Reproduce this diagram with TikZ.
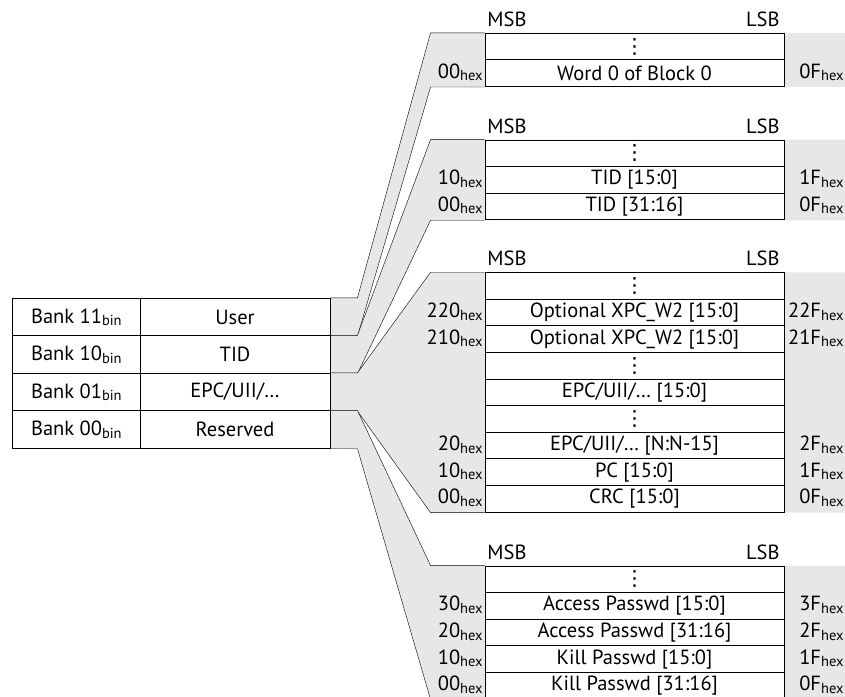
\documentclass[tikz,border=0pt]{standalone}
\usepackage{fontspec}
\setmainfont{PT Sans}
\newfontfamily\dotsfont{DejaVu Sans}
\usetikzlibrary{backgrounds}
\definecolor{memGray}{HTML}{E6E7E8}
\newcommand{\lowsub}[1]{\raisebox{-.25ex}{\fontsize{14.5}{15}\selectfont #1}}
\newcommand{\hx}{\lowsub{hex}}
\newcommand{\coldots}{{\dotsfont\fontsize{21}{21}\selectfont ⋮}}
\newcommand{\memblock}[4]{%
  \node[bitlbl,anchor=base west] at (487,#2-7) {MSB};
  \node[bitlbl,anchor=base east] at (780,#2-7) {LSB};
  \foreach \txt [count=\i from 0] in {#3}
    \node[wordcell] (#1-\i) at (634.5,{#2+(\i+.5)*26.6}) {\txt};
  \foreach \r/\la/\ra in {#4} {
    \node[addrlbl] at (#1-\r.west) {\la\hx};
    \node[addrlbl] at ([xshift=61pt]#1-\r.east) {\ra\hx};
  }%
}

\begin{document}
\begin{tikzpicture}[x=1pt,y=-1pt,line width=.9pt,
    font=\fontsize{20.5}{22}\selectfont,
    bankcell/.style={draw,fill=white,minimum height=37.5pt,inner sep=0pt},
    wordcell/.style={draw,fill=white,minimum width=299pt,minimum height=26.6pt,inner sep=0pt},
    addrlbl/.style={anchor=east,inner xsep=1.5pt,inner ysep=0pt,yshift=1pt},
    bitlbl/.style={inner sep=0pt}]
  \useasboundingbox (0,0) rectangle (845,696);

  \foreach \nm/\txt [count=\i from 0] in {11/User, 10/TID, 01/{EPC/UII/\ldots}, 00/Reserved} {
    \node[bankcell,minimum width=127.3pt] (banknum-\i) at (76.35,{298.3+(\i+.5)*37.5}) {Bank \nm\lowsub{bin}};
    \node[bankcell,minimum width=190pt] (bank-\i) at (235,{298.3+(\i+.5)*37.5}) {\txt};
  }

  \memblock{user}{33.3}{{\coldots}, {Word 0 of Block 0}}{1/00/0F}
  \memblock{tid}{140}{{\coldots}, {TID [15:0]}, {TID [31:16]}}{1/10/1F, 2/00/0F}
  \memblock{epc}{272.7}{{\coldots}, {Optional XPC\_W2 [15:0]}, {Optional XPC\_W2 [15:0]}, {\coldots},
    {EPC/UII/\ldots{} [15:0]}, {\coldots}, {EPC/UII/\ldots{} [N:N-15]}, {PC [15:0]}, {CRC [15:0]}}%
    {1/220/22F, 2/210/21F, 6/20/2F, 7/10/1F, 8/00/0F}
  \memblock{res}{566}{{\coldots}, {Access Passwd [15:0]}, {Access Passwd [31:16]}, {Kill Passwd [15:0]},
    {Kill Passwd [31:16]}}{1/30/3F, 2/20/2F, 3/10/1F, 4/00/0F}

  \begin{scope}[on background layer]
    \foreach \k/\blk/\last in {0/user/1, 1/tid/2, 2/epc/8, 3/res/4} {
      \fill[memGray] (bank-\k.north east) -- ++(27,0) -- ([xshift=-54pt]\blk-0.north west)
        -- ([xshift=61pt]\blk-0.north east) -- ([xshift=61pt]\blk-\last.south east)
        -- ([xshift=-54pt]\blk-\last.south west) -- ([xshift=27pt]bank-\k.south east)
        -- (bank-\k.south east) -- cycle;
      \draw (bank-\k.north east) -- ++(27,0) -- ([xshift=-54pt]\blk-0.north west) -- (\blk-0.north west);
      \draw (bank-\k.south east) -- ++(27,0) -- ([xshift=-54pt]\blk-\last.south west) -- (\blk-\last.south west);
    }
  \end{scope}
\end{tikzpicture}
\end{document}
